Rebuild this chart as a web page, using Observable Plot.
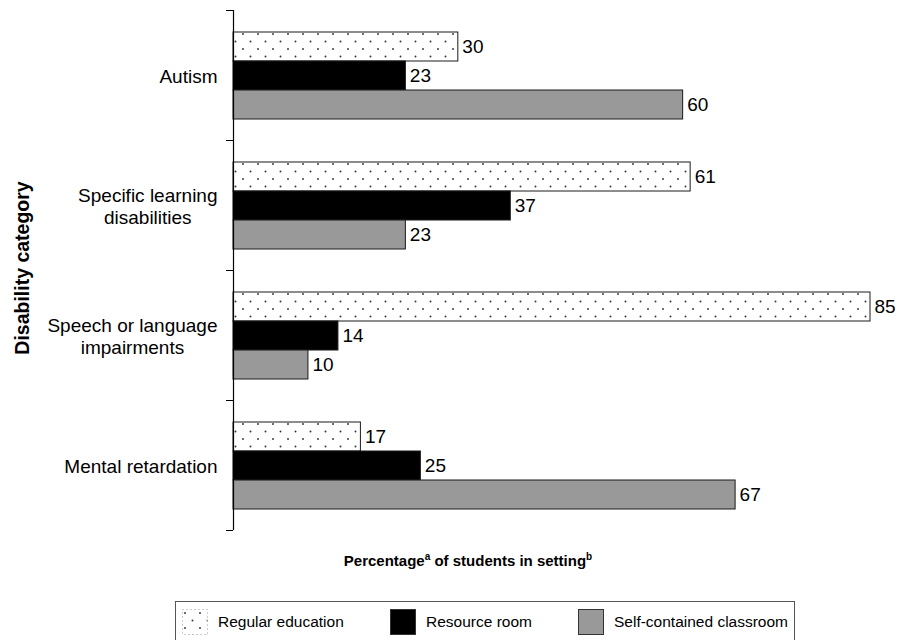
<!DOCTYPE html>
<html><head><meta charset="utf-8">
<script src="https://cdn.jsdelivr.net/npm/d3@7"></script>
<script src="https://cdn.jsdelivr.net/npm/@observablehq/plot@0.6"></script>
<style>
body{margin:0;background:#fff;font-family:"Liberation Sans",Arial,sans-serif;color:#000;}
#wrap{position:relative;width:902px;height:640px;overflow:hidden;}
#chart{position:absolute;left:0;top:0;}
#ytitle{position:absolute;left:22px;top:268px;transform:translate(-50%,-50%) rotate(-90deg);font-weight:bold;font-size:19.5px;white-space:nowrap;}
#xtitle{position:absolute;left:468px;top:560px;transform:translate(-50%,-50%);font-weight:bold;font-size:15px;white-space:nowrap;}
#xtitle sup{font-size:10px;line-height:0;}
#legend{position:absolute;left:175px;top:601px;width:620px;height:40px;border:1px solid #555;box-sizing:border-box;}
.item{position:absolute;top:7px;display:flex;align-items:center;font-size:15.5px;white-space:nowrap;}
.sw{width:26px;height:26px;margin-right:10px;display:block;}
</style>
</head><body>
<div id="wrap">
  <div id="chart"></div>
  <div id="ytitle">Disability category</div>
  <div id="xtitle">Percentage<sup>a</sup> of students in setting<sup>b</sup></div>
  <div id="legend"></div>
</div>
<script>
const categories = ["Autism", "Specific learning disabilities", "Speech or language impairments", "Mental retardation"];
const categoryLabels = ["Autism", "Specific learning\ndisabilities", "Speech or language\nimpairments", "Mental retardation"];
const settings = ["Regular education", "Resource room", "Self-contained classroom"];
const regularEducation = [30, 61, 85, 17];
const resourceRoom = [23, 37, 14, 25];
const selfContained = [60, 23, 10, 67];
const settingFills = ["url(#dots)", "#000000", "#999999"];

const series = [regularEducation, resourceRoom, selfContained];
const rows = [];
categories.forEach((c, i) => {
  settings.forEach((s, j) => rows.push({category: c, setting: s, value: series[j][i]}));
});
const labelOf = d => categoryLabels[categories.indexOf(d)];

const W = 902, H = 540, mT = 10, mB = 10;
const half = (H - mT - mB) / categories.length / 2;

const plot = Plot.plot({
  width: W, height: H,
  marginLeft: 233, marginRight: 32, marginTop: mT, marginBottom: mB,
  style: {fontSize: "19px", fontFamily: "'Liberation Sans', Arial, sans-serif", color: "#000", background: "transparent"},
  x: {domain: [0, 85], axis: null},
  y: {domain: settings, axis: null, paddingInner: 0, paddingOuter: 0.741},
  fy: {domain: categories, padding: 0, axis: null},
  color: {domain: settings, range: settingFills},
  marks: [
    Plot.barX(rows, {x: "value", y: "setting", fy: "category", fill: "setting", stroke: "#1a1a1a", strokeWidth: 1}),
    Plot.text(rows, {x: "value", y: "setting", fy: "category", text: "value", dx: 4, textAnchor: "start", fill: "#000", fontSize: 19}),
    Plot.ruleX([0], {stroke: "#000", strokeWidth: 1.2}),
    Plot.axisFy({anchor: "left", tickSize: 0, tickPadding: 16, tickFormat: labelOf, label: null, fontSize: 19, lineHeight: 1.16}),
    Plot.axisFy({anchor: "left", text: null, tickSize: 7, dy: -half, label: null, stroke: "#000"}),
    Plot.axisFy({anchor: "left", text: null, tickSize: 7, dy: half, label: null, stroke: "#000"})
  ]
});
document.getElementById("chart").appendChild(plot);

// dotted pattern
const ns = "http://www.w3.org/2000/svg";
function makeDots(svg, id) {
  const defs = document.createElementNS(ns, "defs");
  const p = document.createElementNS(ns, "pattern");
  p.setAttribute("id", id);
  p.setAttribute("patternUnits", "userSpaceOnUse");
  p.setAttribute("width", 15); p.setAttribute("height", 15);
  const r = document.createElementNS(ns, "rect");
  r.setAttribute("width", 15); r.setAttribute("height", 15); r.setAttribute("fill", "#fff");
  p.appendChild(r);
  [[3, 4], [10.5, 11.5]].forEach(([cx, cy]) => {
    const c = document.createElementNS(ns, "circle");
    c.setAttribute("cx", cx); c.setAttribute("cy", cy); c.setAttribute("r", 0.95); c.setAttribute("fill", "#333");
    p.appendChild(c);
  });
  defs.appendChild(p);
  svg.insertBefore(defs, svg.firstChild);
}
makeDots(plot, "dots");

// center multi-line category labels on a right-aligned block
plot.querySelectorAll('g[aria-label="fy-axis tick label"] text').forEach(t => {
  const w = t.getBBox().width;
  t.setAttribute("text-anchor", "middle");
  t.setAttribute("transform", (t.getAttribute("transform") || "") + ` translate(${-w / 2},0)`);
});

// legend
const legend = document.getElementById("legend");
const lefts = [6, 214, 402];
settings.forEach((s, i) => {
  const item = document.createElement("div");
  item.className = "item";
  item.style.left = lefts[i] + "px";
  const sw = document.createElementNS(ns, "svg");
  sw.setAttribute("class", "sw");
  sw.setAttribute("width", 26); sw.setAttribute("height", 26);
  if (i === 0) makeDots(sw, "dotsLegend");
  const rect = document.createElementNS(ns, "rect");
  rect.setAttribute("x", 0.5); rect.setAttribute("y", 0.5);
  rect.setAttribute("width", 25); rect.setAttribute("height", 25);
  rect.setAttribute("fill", i === 0 ? "url(#dotsLegend)" : settingFills[i]);
  rect.setAttribute("stroke", i === 0 ? "#999" : "#333");
  if (i === 0) rect.setAttribute("stroke-dasharray", "1 3");
  sw.appendChild(rect);
  const span = document.createElement("span");
  span.textContent = s;
  item.appendChild(sw);
  item.appendChild(span);
  legend.appendChild(item);
});
</script>
</body></html>
